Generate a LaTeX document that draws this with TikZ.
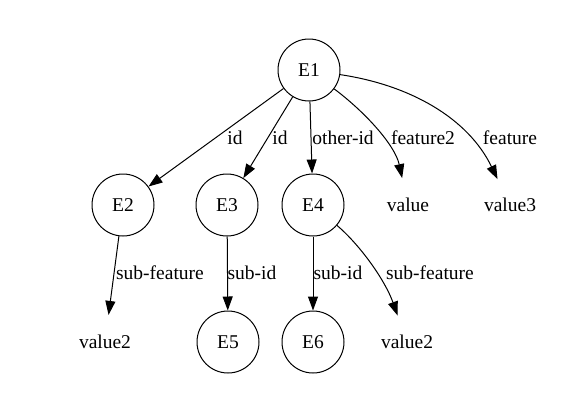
\documentclass[tikz,border=0pt]{standalone}
\usepackage{fontspec}
\setmainfont{Liberation Serif}
\usetikzlibrary{arrows.meta,shapes.geometric}
\begin{document}
\begin{tikzpicture}[x=1pt,y=-1pt,
  every node/.style={font=\fontsize{19.5}{23}\selectfont},
  ent/.style={draw,circle,minimum size=62pt,inner sep=0pt,line width=1pt},
  val/.style={ellipse,minimum width=80pt,minimum height=54pt,inner sep=0pt},
  lab/.style={inner sep=0pt},
  edge/.style={line width=1pt,-{Triangle[length=14pt,width=10pt]}}]
\useasboundingbox (0,0) rectangle (586,402);
\node[ent] (E1) at (309,70) {E1};
\node[ent] (E2) at (123,205) {E2};
\node[ent] (E3) at (227,205) {E3};
\node[ent] (E4) at (313,205) {E4};
\node[val] (v) at (408,205) {value};
\node[val] (v3) at (510,205) {value3};
\node[val] (v2a) at (105,342) {value2};
\node[ent] (E5) at (228,342) {E5};
\node[ent] (E6) at (313,342) {E6};
\node[val] (v2b) at (407,342) {value2};
\draw[edge] (E1) -- (E2);
\draw[edge] (E1) -- (E3);
\draw[edge] (E1) -- (E4);
\coordinate (a1) at (365,112);
\coordinate (a2) at (395,145);
\draw[edge] (E1) .. controls (a1) and (a2) .. (v);
\coordinate (b1) at (410,85);
\coordinate (b2) at (468,118);
\draw[edge] (E1) .. controls (b1) and (b2) .. (v3);
\draw[edge] (E2) -- (v2a);
\draw[edge] (E3) -- (E5);
\draw[edge] (E4) -- (E6);
\coordinate (c1) at (360,245);
\coordinate (c2) at (385,280);
\draw[edge] (E4) .. controls (c1) and (c2) .. (v2b);
\node[lab] (l1) at (235,138) {id};
\node[lab] (l2) at (280,138) {id};
\node[lab] (l3) at (343,138) {other-id};
\node[lab] (l4) at (423,138) {feature2};
\node[lab] (l5) at (510,138) {feature};
\node[lab] (l6) at (160,273) {sub-feature};
\node[lab] (l7) at (252,273) {sub-id};
\node[lab] (l8) at (338,273) {sub-id};
\node[lab] (l9) at (430,273) {sub-feature};
\end{tikzpicture}
\end{document}
